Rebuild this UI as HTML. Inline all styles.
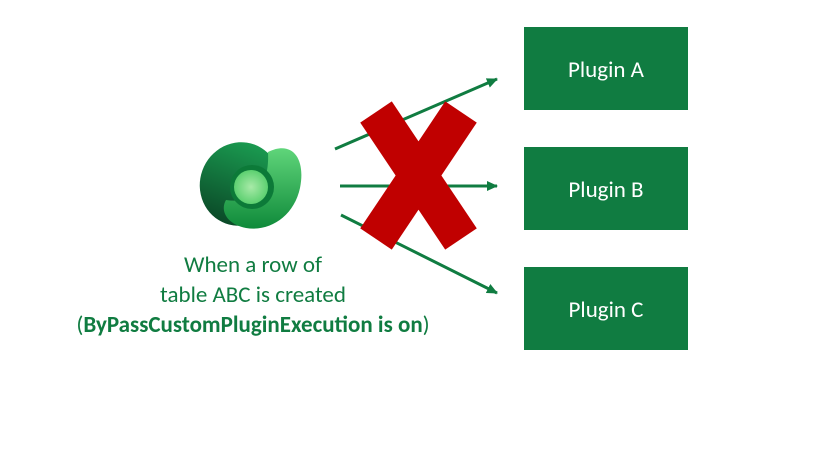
<!DOCTYPE html>
<html><head><meta charset="utf-8"><style>
body{margin:0;width:819px;height:460px;background:#fff;overflow:hidden;font-family:Calibri,"Liberation Sans",sans-serif}
.box{position:absolute;left:524px;width:164px;height:83px;background:#107C41;color:#fff;font-size:23px;display:flex;align-items:center;justify-content:center;padding-top:3px;box-sizing:border-box}
.t{position:absolute;left:0;width:506px;text-align:center;color:#107C41;font-size:23px;line-height:30px;white-space:nowrap}
</style></head><body>
<svg width="819" height="460" style="position:absolute;left:0;top:0">
<defs>
<marker id="a" markerWidth="11" markerHeight="10" refX="10" refY="5" orient="auto" markerUnits="userSpaceOnUse"><path d="M0,0 L11,5 L0,10 z" fill="#107C41"/></marker>
<linearGradient id="g1" x1="0" y1="0" x2="0" y2="1"><stop offset="0" stop-color="#1a9a50"/><stop offset="1" stop-color="#0b4a28"/></linearGradient>
<linearGradient id="g2" x1="0" y1="0" x2="0" y2="1"><stop offset="0" stop-color="#5fd57a"/><stop offset="1" stop-color="#0f8a3a"/></linearGradient>
<radialGradient id="g3"><stop offset="0" stop-color="#a8eaa8"/><stop offset="1" stop-color="#5cd070"/></radialGradient>
</defs>
<line x1="335" y1="149" x2="497" y2="79" stroke="#107C41" stroke-width="3" marker-end="url(#a)"/>
<line x1="340" y1="186" x2="497" y2="186" stroke="#107C41" stroke-width="3" marker-end="url(#a)"/>
<line x1="341" y1="215" x2="497" y2="293" stroke="#107C41" stroke-width="3" marker-end="url(#a)"/>
<line x1="376" y1="112" x2="461" y2="239" stroke="#C00000" stroke-width="38"/>
<line x1="461" y1="112" x2="376" y2="239" stroke="#C00000" stroke-width="38"/>
<ellipse cx="240" cy="184" rx="40" ry="42" fill="url(#g1)" transform="rotate(20 240 184)"/>
<path d="M268,152 C292,140 306,158 300,188 C294,216 270,232 246,228 C226,224 220,210 226,200 C250,204 270,190 268,152 Z" fill="url(#g2)"/>
<circle cx="252" cy="187" r="22" fill="#0c7a38"/>
<circle cx="251" cy="187" r="17" fill="url(#g3)"/>
</svg>
<div class="box" style="top:27px">Plugin A</div>
<div class="box" style="top:147px">Plugin B</div>
<div class="box" style="top:267px">Plugin C</div>
<div class="t" style="top:250px">When a row of</div>
<div class="t" style="top:280px">table ABC is created</div>
<div class="t" style="top:310px">(<b>ByPassCustomPluginExecution is on</b>)</div>
</body></html>
